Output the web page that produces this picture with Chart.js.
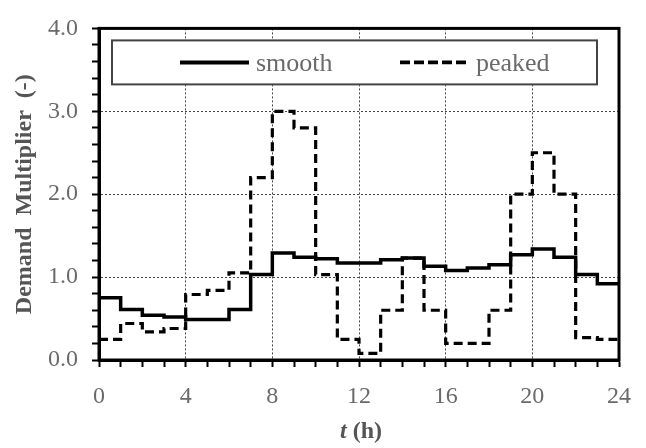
<!DOCTYPE html>
<html>
<head>
<meta charset="utf-8">
<script src="https://cdn.jsdelivr.net/npm/chart.js@4.4.1/dist/chart.umd.min.js"></script>
<style>
  html, body { margin: 0; padding: 0; background: #fff; }
  #wrap { width: 646px; height: 448px; }
</style>
</head>
<body>
<div id="wrap"><canvas id="demand"></canvas></div>
<script>
// Hourly demand multipliers, value i applies from hour i to hour i+1
const smoothValues = [0.75, 0.61, 0.54, 0.52, 0.49, 0.49, 0.61, 1.03, 1.29, 1.24, 1.22, 1.17,
                      1.17, 1.21, 1.23, 1.13, 1.08, 1.11, 1.15, 1.27, 1.34, 1.24, 1.03, 0.92];
const peakedValues = [0.25, 0.44, 0.34, 0.38, 0.79, 0.84, 1.05, 2.2, 3.0, 2.8, 1.03, 0.25,
                      0.08, 0.6, 1.23, 0.6, 0.2, 0.2, 0.6, 2.0, 2.5, 2.0, 0.27, 0.25];

// Labelled ticks
const hourLabels = [0, 4, 8, 12, 16, 20, 24];
const multiplierLabels = [0, 1, 2, 3, 4];

const SERIF = '"Liberation Serif", "Times New Roman", serif';
const TEXT_GREY = '#6a6a6a';
const TITLE_GREY = '#555';

// Turn hourly values into points for a step line (last value held to the end)
function toSteps(values) {
  const pts = values.map((v, i) => ({ x: i, y: v }));
  pts.push({ x: values.length, y: values[values.length - 1] });
  return pts;
}

function isLabelled(list, v) {
  return list.some(l => Math.abs(l - v) < 1e-6);
}

// Thick frame round the plot area
const framePlugin = {
  id: 'frame',
  afterDraw(chart) {
    const { ctx, chartArea: a } = chart;
    ctx.save();
    ctx.strokeStyle = '#000';
    ctx.lineWidth = 3;
    ctx.strokeRect(a.left, a.top, a.right - a.left, a.bottom - a.top);
    ctx.restore();
  }
};

// Boxed legend inside the top of the plot
const boxLegendPlugin = {
  id: 'boxLegend',
  afterDatasetsDraw(chart) {
    const { ctx, chartArea: a } = chart;
    const x0 = a.left + 13, x1 = a.right - 22;
    const y0 = a.top + 12, y1 = a.top + 56;
    ctx.save();
    ctx.fillStyle = '#fff';
    ctx.fillRect(x0, y0, x1 - x0, y1 - y0);
    ctx.strokeStyle = '#444';
    ctx.lineWidth = 2;
    ctx.strokeRect(x0, y0, x1 - x0, y1 - y0);

    const midY = (y0 + y1) / 2;
    const entries = [
      { ds: chart.data.datasets[0], lineX: a.left + 81 },
      { ds: chart.data.datasets[1], lineX: a.left + 301 }
    ];
    ctx.font = '26px ' + SERIF;
    ctx.textBaseline = 'middle';
    ctx.textAlign = 'left';
    entries.forEach(({ ds, lineX }) => {
      ctx.strokeStyle = ds.borderColor;
      ctx.lineWidth = ds.borderWidth + 0.5;
      ctx.setLineDash(ds.borderDash ? [10, 4] : []);
      ctx.beginPath();
      ctx.moveTo(lineX, midY);
      ctx.lineTo(lineX + 69, midY);
      ctx.stroke();
      ctx.setLineDash([]);
      ctx.fillStyle = TEXT_GREY;
      ctx.fillText(ds.label, lineX + 76, midY + 2);
    });
    ctx.restore();
  }
};

// x-axis title with an italic symbol
const xTitlePlugin = {
  id: 'xTitle',
  afterDraw(chart) {
    const { ctx, chartArea: a } = chart;
    const symFont = 'italic bold 24px ' + SERIF;
    const unitFont = 'bold 24px ' + SERIF;
    ctx.save();
    ctx.font = symFont;
    const w1 = ctx.measureText('t').width;
    ctx.font = unitFont;
    const w2 = ctx.measureText(' (h)').width;
    let x = (a.left + a.right) / 2 + 2 - (w1 + w2) / 2;
    const y = 432;
    ctx.fillStyle = TITLE_GREY;
    ctx.textBaseline = 'middle';
    ctx.textAlign = 'left';
    ctx.font = symFont;
    ctx.fillText('t', x, y);
    ctx.font = unitFont;
    ctx.fillText(' (h)', x + w1, y);
    ctx.restore();
  }
};

const ctx = document.getElementById('demand').getContext('2d');
new Chart(ctx, {
  type: 'line',
  data: {
    datasets: [
      {
        label: 'smooth',
        data: toSteps(smoothValues),
        stepped: true,
        borderColor: '#000',
        borderWidth: 3.5,
        pointRadius: 0,
        fill: false
      },
      {
        label: 'peaked',
        data: toSteps(peakedValues),
        stepped: true,
        borderColor: '#000',
        borderWidth: 3.2,
        borderDash: [9, 5],
        pointRadius: 0,
        fill: false
      }
    ]
  },
  options: {
    responsive: true,
    maintainAspectRatio: false,
    animation: false,
    layout: { padding: { top: 15, right: 17, left: 0, bottom: 0 } },
    plugins: {
      legend: { display: false },
      tooltip: { enabled: false }
    },
    scales: {
      x: {
        type: 'linear',
        min: 0,
        max: 24,
        afterFit: scale => { scale.height = 88; },
        ticks: {
          stepSize: 1,
          autoSkip: false,
          maxRotation: 0,
          padding: 15,
          color: TEXT_GREY,
          font: { family: SERIF, size: 24 },
          callback: v => isLabelled(hourLabels, v) ? String(v) : ''
        },
        grid: {
          color: c => {
            const v = c.tick ? c.tick.value : -1;
            return (v % 4 === 0 && v > 0 && v < 24) ? '#444' : 'rgba(0,0,0,0)';
          },
          lineWidth: 1,
          tickColor: '#000',
          tickLength: 7,
          tickWidth: 2
        },
        border: { display: true, color: '#000', width: 3, dash: [2, 2] }
      },
      y: {
        min: 0,
        max: 4,
        afterFit: scale => { scale.width = 99; },
        ticks: {
          stepSize: 0.2,
          autoSkip: false,
          padding: 14,
          color: TEXT_GREY,
          font: { family: SERIF, size: 24 },
          callback: v => isLabelled(multiplierLabels, v) ? v.toFixed(1) : ''
        },
        grid: {
          color: c => {
            const v = c.tick ? c.tick.value : -1;
            const whole = Math.abs(v - Math.round(v)) < 1e-6;
            return (whole && v > 0.5 && v < 3.5) ? '#444' : 'rgba(0,0,0,0)';
          },
          lineWidth: 1,
          tickColor: '#000',
          tickLength: 7,
          tickWidth: 2
        },
        border: { display: true, color: '#000', width: 3, dash: [2, 2] },
        title: {
          display: true,
          text: 'Demand  Multiplier  (-)',
          color: TITLE_GREY,
          font: { family: SERIF, size: 24, weight: 'bold' },
          padding: { top: 10, bottom: 0 }
        }
      }
    }
  },
  plugins: [framePlugin, boxLegendPlugin, xTitlePlugin]
});
</script>
</body>
</html>
